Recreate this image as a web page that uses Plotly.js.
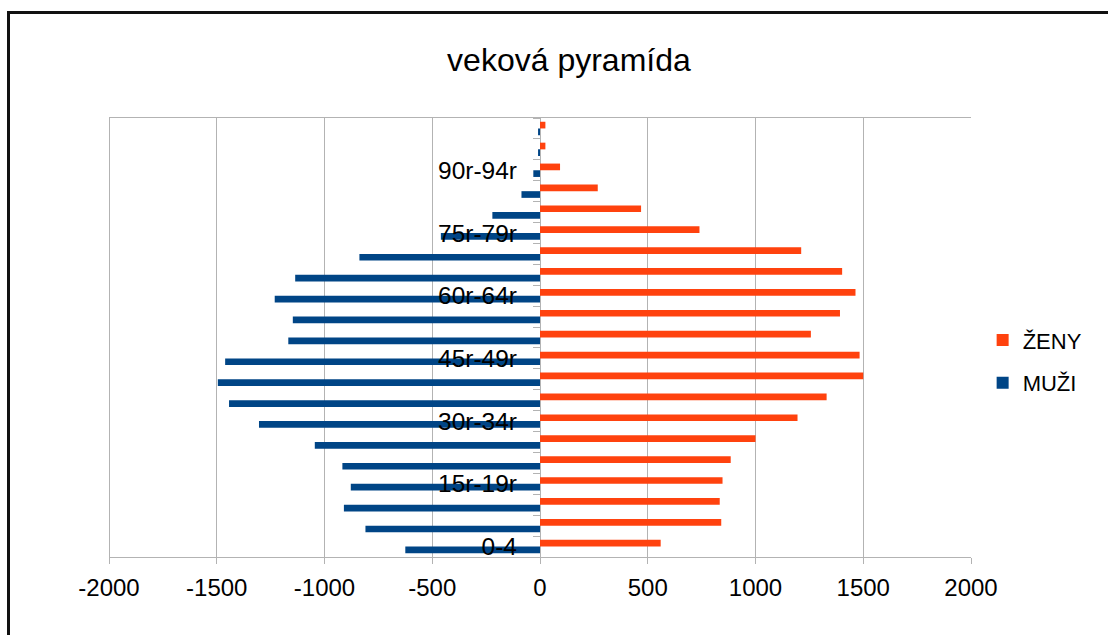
<!DOCTYPE html>
<html>
<head>
<meta charset="utf-8">
<script src="https://cdn.plot.ly/plotly-3.0.1.min.js"></script>
<style>
  html, body { margin: 0; padding: 0; background: #fff; }
  #wrap { position: relative; width: 1108px; height: 635px; overflow: hidden; }
  #chart { width: 1108px; height: 635px; }
  #frame { position: absolute; left: 7px; top: 11px; width: 1200px; height: 700px;
           border-left: 3px solid #111; border-top: 3px solid #111; pointer-events: none; }
</style>
</head>
<body>
<div id="wrap">
  <div id="chart"></div>
  <div id="frame"></div>
</div>
<script>
// Age groups, bottom to top
const ageGroups = ["0-4", "5r-9r", "10r-14r", "15r-19r", "20r-24r", "25r-29r", "30r-34r",
  "35r-39r", "40r-44r", "45r-49r", "50r-54r", "55r-59r", "60r-64r", "65r-69r",
  "70r-74r", "75r-79r", "80r-84r", "85r-89r", "90r-94r", "95r-99r", "100r+"];
// Shown tick labels
const shownLabels = ["0-4", "15r-19r", "30r-34r", "45r-49r", "60r-64r", "75r-79r", "90r-94r"];
// MUŽI (plotted as negative values)
const muzi = [-625, -810, -910, -878, -917, -1045, -1304, -1443, -1495, -1461, -1168,
  -1147, -1231, -1136, -838, -460, -221, -86, -31, -9, -9];
// ŽENY
const zeny = [560, 841, 834, 847, 885, 1000, 1195, 1330, 1500, 1483, 1257,
  1392, 1464, 1402, 1212, 740, 469, 268, 93, 25, 25];
const xTicks = [-2000, -1500, -1000, -500, 0, 500, 1000, 1500, 2000];

const FONT = "Liberation Sans, Arial, sans-serif";
const GRID = "#b3b3b3";

const traces = [
  {
    type: "bar", orientation: "h", name: "MUŽI", legendgroup: "m", legendrank: 2,
    x: muzi, y: ageGroups,
    marker: { color: "#004586", line: { width: 0 } }
  },
  {
    type: "bar", orientation: "h", name: "ŽENY", legendgroup: "z", legendrank: 1,
    x: zeny, y: ageGroups,
    marker: { color: "#ff420e", line: { width: 0 } }
  },
  {
    type: "scatter", mode: "markers", x: muzi, y: ageGroups, yaxis: "y2",
    marker: { opacity: 0 }, showlegend: false, hoverinfo: "skip"
  },
  {
    type: "scatter", mode: "markers", x: zeny, y: ageGroups, yaxis: "y3",
    marker: { opacity: 0 }, showlegend: false, hoverinfo: "skip"
  }
];

const layout = {
  width: 1108, height: 635,
  paper_bgcolor: "#fff", plot_bgcolor: "#fff",
  margin: { l: 109, r: 137, t: 118, b: 78 },
  font: { family: FONT, color: "#000" },
  title: {
    text: "veková pyramída",
    font: { family: FONT, size: 32, color: "#000" },
    x: 0.5135, xref: "container", xanchor: "center",
    y: 0.906, yref: "container", yanchor: "middle"
  },
  barmode: "group", bargap: 0.36, bargroupgap: 0,
  xaxis: {
    range: [-2000, 2000], tickvals: xTicks, ticktext: xTicks.map(String),
    showgrid: true, gridcolor: GRID, gridwidth: 1,
    zeroline: true, zerolinecolor: GRID, zerolinewidth: 1,
    showline: true, linecolor: GRID, linewidth: 1, mirror: true,
    ticks: "outside", ticklen: 6, tickcolor: GRID,
    tickfont: { family: FONT, size: 24, color: "#000" },
    ticklabelstandoff: 3
  },
  yaxis: {
    type: "category", categoryorder: "array", categoryarray: ageGroups,
    range: [-0.5, 20.5],
    anchor: "free", position: 0.5,
    tickvals: shownLabels, ticktext: shownLabels,
    showgrid: false, zeroline: false, showline: false, ticks: "",
    tickfont: { family: FONT, size: 24.5, color: "#000" },
    ticklabelstandoff: 23
  },
  yaxis2: {
    type: "category", categoryorder: "array", categoryarray: ageGroups,
    range: [-0.5, 20.5], overlaying: "y",
    anchor: "free", position: 0.5,
    showgrid: false, zeroline: false, showline: false,
    showticklabels: false, ticks: "outside", tickson: "boundaries",
    ticklen: 7, tickcolor: GRID, tickwidth: 1
  },
  yaxis3: {
    type: "category", categoryorder: "array", categoryarray: ageGroups,
    range: [-0.5, 20.5], overlaying: "y",
    anchor: "free", position: 0, side: "left",
    showgrid: false, zeroline: false, showline: true, linecolor: GRID, linewidth: 1,
    mirror: false, showticklabels: false, ticks: ""
  },
  legend: {
    x: 1.0135, xanchor: "left", y: 0.4446, yanchor: "middle",
    traceorder: "grouped", tracegroupgap: 11,
    font: { family: FONT, size: 22, color: "#000" },
    bgcolor: "rgba(0,0,0,0)"
  },
  showlegend: true
};

Plotly.newPlot("chart", traces, layout, { displayModeBar: false, staticPlot: true });
</script>
</body>
</html>
